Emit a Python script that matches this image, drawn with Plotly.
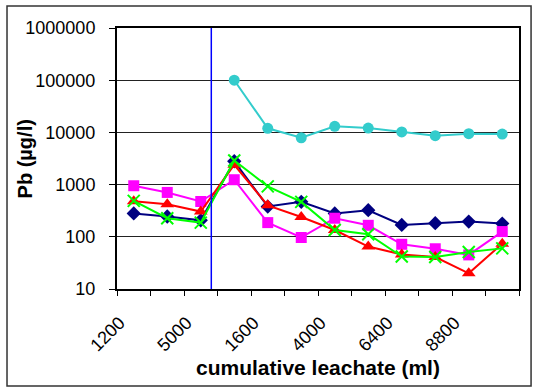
import plotly.graph_objects as go

# Sampling steps along the cumulative leachate axis (labels on every other step)
tick_labels = ["1200", "", "5000", "", "1600", "", "4000", "", "6400", "", "8800", ""]
steps = list(range(len(tick_labels)))

# Pb concentrations (µg/l) per series
pb_navy = [280, 245, 207, 2800, 380, 467, 280, 323, 169, 182, 196, 179]
pb_pink = [950, 708, 475, 1240, 187, 97, 227, 166, 72, 59, 45, 126]
pb_red = [480, 422, 305, 2400, 400, 240, 135, 65, 46, 41, 20, 74]
pb_green = [488, 227, 187, 2900, 925, 467, 135, 112, 42, 41, 51, 60]
pb_cyan = [None, None, None, 100000, 12000, 7900, 13100, 12100, 10200, 8650, 9450, 9300]

series = [
    (pb_navy, "#000080", dict(symbol="diamond", size=11)),
    (pb_pink, "#FF00FF", dict(symbol="square", size=11)),
    (pb_red, "#FF0000", dict(symbol="triangle-up", size=12)),
    (pb_green, "#00FF00", dict(symbol="x-thin", size=12, line=dict(width=2, color="#00FF00"))),
    (pb_cyan, "#33CCCC", dict(symbol="circle", size=11)),
]

fig = go.Figure()
for values, color, marker in series:
    fig.add_trace(go.Scatter(
        x=steps, y=values, mode="lines+markers",
        line=dict(color=color, width=2),
        marker=dict(color=color, **marker),
        connectgaps=False, showlegend=False,
    ))

font = "Liberation Sans, Arial, sans-serif"
pad = "\u00a0" * 4  # pushes the slanted labels down-left of each step

fig.update_xaxes(
    range=[-0.5, 11.5], automargin=False,
    tickmode="array", tickvals=steps,
    ticktext=[t + pad if t else "" for t in tick_labels],
    tickangle=-45, ticks="", ticklabelstandoff=0,
    tickfont=dict(family=font, size=18, color="black"),
    showgrid=False, zeroline=False,
    showline=True, linecolor="black", linewidth=2, mirror=True,
    minor=dict(tickvals=[i - 0.5 for i in range(13)], ticks="outside",
               ticklen=5, tickcolor="black", tickwidth=1, showgrid=False),
    title=dict(text="<b>cumulative leachate (ml)</b>",
               font=dict(family=font, size=21, color="black"), standoff=6),
)
fig.update_yaxes(
    type="log", range=[1, 6], automargin=False,
    tickmode="array",
    tickvals=[10, 100, 1000, 10000, 100000, 1000000],
    ticktext=["10", "100", "1000", "10000", "100000", "1000000"],
    ticks="outside", ticklen=6, tickcolor="black", ticklabelstandoff=10,
    tickfont=dict(family=font, size=18, color="black"),
    showgrid=True, gridcolor="#222222", gridwidth=1, zeroline=False,
    showline=True, linecolor="black", linewidth=2, mirror=True,
)

fig.update_layout(
    width=533, height=387,
    margin=dict(l=117, r=14, t=28, b=98),
    paper_bgcolor="white", plot_bgcolor="white",
    annotations=[
        dict(text="<b>Pb (µg/l)</b>", textangle=-90, showarrow=False,
             xref="paper", yref="paper", x=-0.229, y=0.5,
             xanchor="center", yanchor="middle",
             font=dict(family=font, size=20, color="black")),
    ],
    shapes=[
        # boundary between the two leaching runs
        dict(type="line", xref="x", yref="paper", x0=2.315, x1=2.315, y0=0, y1=1,
             line=dict(color="#0000FF", width=1.5)),
        # chart frame
        dict(type="rect", xref="paper", yref="paper",
             x0=-0.2736, x1=1.03, y0=-0.372, y1=1.084,
             line=dict(color="#333333", width=1.5)),
    ],
)

fig.write_html("out.html")
